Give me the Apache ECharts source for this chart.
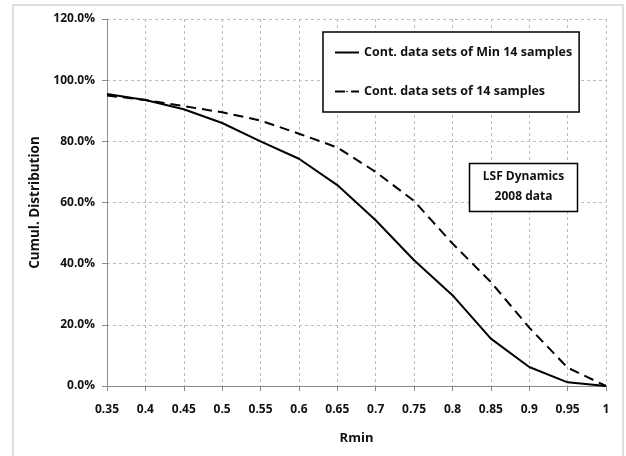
<!DOCTYPE html>
<html>
<head>
<meta charset="utf-8">
<script src="https://cdn.jsdelivr.net/npm/echarts@6/dist/echarts.min.js"></script>
<style>
html,body{margin:0;padding:0;background:#fff;}
#c{width:626px;height:456px;}
</style>
</head>
<body>
<div id="c"></div>
<script>
var categories = ['0.35','0.4','0.45','0.5','0.55','0.6','0.65','0.7','0.75','0.8','0.85','0.9','0.95','1'];
var minSamples = [95.5, 93.5, 90.5, 86.0, 80.0, 74.3, 65.7, 54.2, 41.1, 29.7, 15.5, 6.2, 1.2, 0];
var allSamples = [95.0, 93.5, 91.5, 89.5, 86.8, 82.5, 78.0, 70.0, 60.5, 46.6, 34.0, 19.1, 6.0, 0];
var seriesNames = ['Cont. data sets of Min 14 samples', 'Cont. data sets of 14 samples'];
var yTicks = {min: 0, max: 120, interval: 20};

var font = '"Open Sans", "Liberation Sans", sans-serif';
var chart = echarts.init(document.getElementById('c'), null, {renderer: 'canvas'});
chart.setOption({
  animation: false,
  backgroundColor: '#fff',
  textStyle: {fontFamily: font},
  grid: {left: 107, right: 20, top: 19, bottom: 70, containLabel: false},
  graphic: [
    {type: 'rect', shape: {x: 13, y: 5, width: 610, height: 470}, style: {fill: 'none', stroke: '#d4d4d4', lineWidth: 1.5}, silent: true, z: -10},
    {type: 'rect', shape: {x: 469.5, y: 163.5, width: 108, height: 48}, style: {fill: '#fff', stroke: '#000', lineWidth: 1.5}, z: 100},
    {type: 'text', x: 523.5, y: 186.5, style: {text: 'LSF Dynamics\n2008 data', fill: '#111', font: 'bold 12px ' + font, align: 'center', verticalAlign: 'middle', lineHeight: 20}, z: 101}
  ],
  legend: {
    orient: 'vertical',
    left: 323, top: 32,
    padding: [13, 7, 13, 11],
    itemGap: 24,
    itemWidth: 24, itemHeight: 2,
    backgroundColor: '#fff',
    borderColor: '#000', borderWidth: 1.5, borderRadius: 0,
    textStyle: {fontFamily: font, fontSize: 12.5, fontWeight: 'bold', color: '#111', lineHeight: 15},
    data: seriesNames
  },
  xAxis: {
    type: 'category',
    data: categories,
    boundaryGap: false,
    name: 'Rmin',
    nameLocation: 'middle',
    nameGap: 46,
    nameTextStyle: {fontFamily: font, fontSize: 13, fontWeight: 'bold', color: '#111'},
    axisLine: {lineStyle: {color: '#8c8c8c', width: 1}},
    axisTick: {show: true, alignWithLabel: true, length: 5, lineStyle: {color: '#8c8c8c'}},
    axisLabel: {fontFamily: font, fontSize: 12, fontWeight: 'bold', color: '#111', margin: 18},
    splitLine: {show: true, lineStyle: {color: '#bdbdbd', type: [3, 3], width: 1}}
  },
  yAxis: {
    type: 'value',
    min: yTicks.min, max: yTicks.max, interval: yTicks.interval,
    name: 'Cumul. Distribution',
    nameLocation: 'middle',
    nameRotate: 90,
    nameGap: 60,
    nameTextStyle: {fontFamily: font, fontSize: 13.5, fontWeight: 'bold', color: '#111'},
    axisLine: {show: true, lineStyle: {color: '#8c8c8c', width: 1}},
    axisTick: {show: true, length: 5, lineStyle: {color: '#8c8c8c'}},
    axisLabel: {fontFamily: font, fontSize: 12, fontWeight: 'bold', color: '#111', margin: 12,
      formatter: function (v) { return v.toFixed(1) + '%'; }},
    splitLine: {show: true, lineStyle: {color: '#bdbdbd', type: [3, 3], width: 1}}
  },
  series: [
    {
      name: seriesNames[0], type: 'line', data: minSamples,
      showSymbol: false, symbol: 'none',
      lineStyle: {color: '#000', width: 2, type: 'solid'},
      itemStyle: {color: '#000'}, z: 5
    },
    {
      name: seriesNames[1], type: 'line', data: allSamples,
      showSymbol: false, symbol: 'none',
      lineStyle: {color: '#000', width: 2, type: [10, 6]},
      itemStyle: {color: '#000'}, z: 4
    }
  ]
});
</script>
</body>
</html>
